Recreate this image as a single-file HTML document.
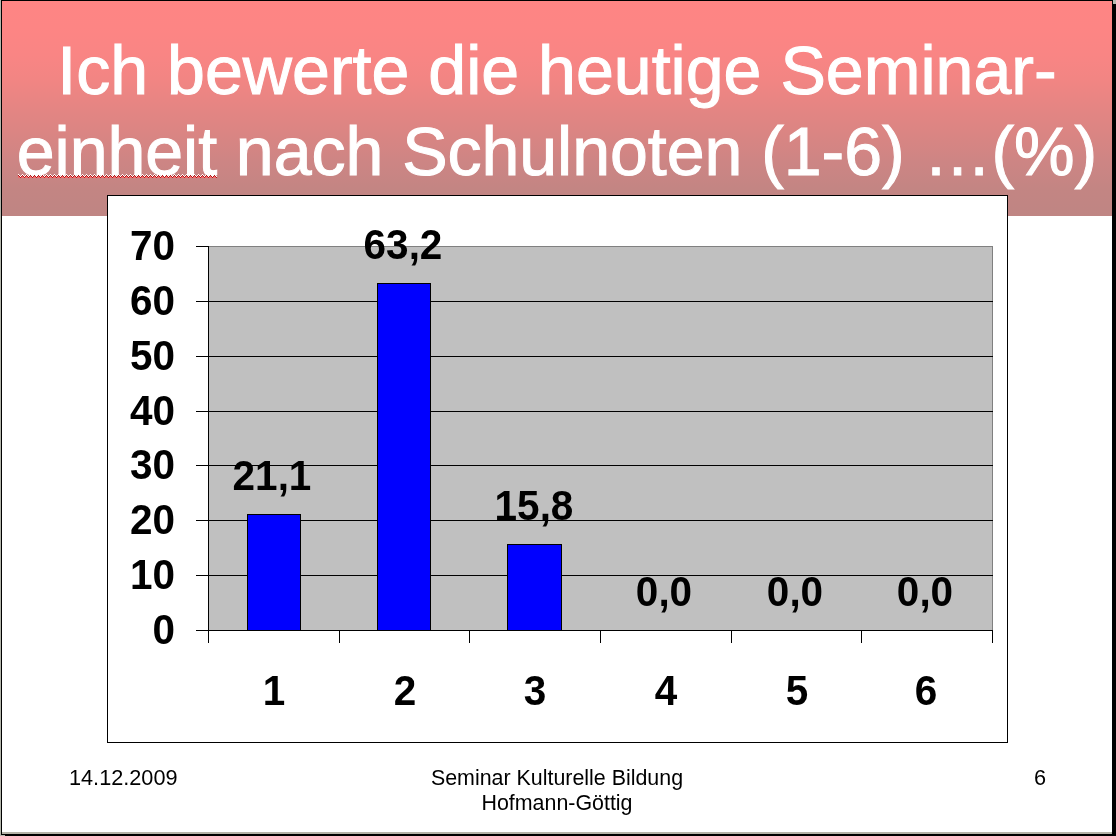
<!DOCTYPE html>
<html lang="de">
<head>
<meta charset="utf-8">
<title>Ich bewerte die heutige Seminareinheit nach Schulnoten</title>
<style>
html,body{margin:0;padding:0;}
body{width:1116px;height:836px;overflow:hidden;background:#000;position:relative;font-family:"Liberation Sans",Arial,sans-serif;}
.abs{position:absolute;}
#edgeL{left:0;top:0;width:1px;height:836px;background:#b4b6ac;}
#edgeBL{left:0;top:835px;width:5px;height:1px;background:#b4b6ac;}
#edgeTR{left:1113px;top:0;width:3px;height:4px;background:#b9bcb2;}
#slide{left:2px;top:1px;width:1110px;height:831px;background:#fff;}
#slideB{left:2px;top:832px;width:1110px;height:2px;background:#b5b3a8;}
#banner{left:2px;top:1px;width:1110px;height:215px;background:linear-gradient(to bottom,#fe8584 0px,#fd8584 27px,#f98584 54px,#f18583 81px,#e48583 108px,#d98583 135px,#cd8584 161px,#c38583 188px,#bf8583 215px);}
.title{left:2px;width:1110px;text-align:center;color:#fff;font-size:68.1px;line-height:80px;white-space:nowrap;-webkit-text-stroke:1px #fff;}
#t1{top:30px;}
#t2{top:111px;letter-spacing:-0.06px;}
#chart{left:107px;top:195px;width:899px;height:546px;border:1px solid #000;background:#fff;}
#plot{left:209px;top:246px;width:784px;height:384px;background:#c0c0c0;border-top:1px solid #808080;border-right:1px solid #808080;box-sizing:border-box;}
.g{left:196px;width:797px;height:1px;background:#000;}
.gt{left:196px;width:13px;height:1px;background:#000;}
#yaxis{left:208px;top:246px;width:1px;height:385px;background:#000;}
#xaxis{left:208px;top:630px;width:785px;height:1px;background:#000;}
.xt{top:630px;width:1px;height:13px;background:#000;}
.bar{background:#0000ff;border:1px solid #000;box-sizing:border-box;}
.yl{left:111px;width:64px;text-align:right;font-weight:bold;font-size:42.6px;line-height:40px;color:#000;transform:scaleX(.95);transform-origin:100% 50%;}
.xl{width:80px;text-align:center;font-weight:bold;font-size:42.6px;line-height:40px;color:#000;top:670px;transform:scaleX(.95);transform-origin:50% 50%;}
.dl{width:120px;text-align:center;font-weight:bold;font-size:42.6px;line-height:40px;color:#000;transform:scaleX(.95);transform-origin:50% 50%;}
.ft{font-size:21.7px;line-height:25.2px;color:#000;white-space:nowrap;}
</style>
</head>
<body>
<div class="abs" id="edgeL"></div>
<div class="abs" id="edgeBL"></div>
<div class="abs" id="edgeTR"></div>
<div class="abs" id="slide"></div>
<div class="abs" id="slideB"></div>
<div class="abs" id="banner"></div>
<div class="abs title" id="t1">Ich bewerte die heutige Seminar-</div>
<div class="abs title" id="t2"><span id="sq">einheit</span> nach Schulnoten (1-6) …(%)</div>

<svg class="abs" id="squig" style="left:18px;top:174px" width="199" height="4" shape-rendering="crispEdges"><defs><pattern id="zz" width="4" height="4" patternUnits="userSpaceOnUse"><rect x="0" y="0" width="1" height="1" fill="#fff"/><rect x="1" y="1" width="1" height="1" fill="#fff"/><rect x="3" y="1" width="1" height="1" fill="#fff"/><rect x="2" y="2" width="1" height="1" fill="#fff"/><rect x="0" y="1" width="1" height="1" fill="#b01818"/><rect x="1" y="2" width="1" height="1" fill="#b01818"/><rect x="3" y="2" width="1" height="1" fill="#b01818"/><rect x="2" y="3" width="1" height="1" fill="#b01818"/><rect x="0" y="2" width="1" height="2" fill="#f06a6a"/><rect x="1" y="3" width="1" height="1" fill="#f06a6a"/><rect x="3" y="3" width="1" height="1" fill="#f06a6a"/></pattern></defs><rect x="0" y="0" width="199" height="4" fill="url(#zz)"/></svg>

<div class="abs" id="chart"></div>
<div class="abs" id="plot"></div>
<div class="abs gt" style="top:246px"></div>
<div class="abs g" style="top:301px"></div>
<div class="abs g" style="top:356px"></div>
<div class="abs g" style="top:411px"></div>
<div class="abs g" style="top:465px"></div>
<div class="abs g" style="top:520px"></div>
<div class="abs g" style="top:575px"></div>
<div class="abs gt" style="top:630px"></div>
<div class="abs" id="yaxis"></div>
<div class="abs" id="xaxis"></div>
<div class="abs xt" style="left:208px"></div>
<div class="abs xt" style="left:339px"></div>
<div class="abs xt" style="left:469px"></div>
<div class="abs xt" style="left:600px"></div>
<div class="abs xt" style="left:731px"></div>
<div class="abs xt" style="left:861px"></div>
<div class="abs xt" style="left:992px"></div>

<div class="abs bar" style="left:247px;top:514px;width:54px;height:117px"></div>
<div class="abs bar" style="left:377px;top:283px;width:54px;height:348px"></div>
<div class="abs bar" style="left:507px;top:544px;width:55px;height:87px"></div>

<div class="abs yl" style="top:225px">70</div>
<div class="abs yl" style="top:280px">60</div>
<div class="abs yl" style="top:335px">50</div>
<div class="abs yl" style="top:390px">40</div>
<div class="abs yl" style="top:444px">30</div>
<div class="abs yl" style="top:499px">20</div>
<div class="abs yl" style="top:554px">10</div>
<div class="abs yl" style="top:609px">0</div>

<div class="abs xl" style="left:233.5px">1</div>
<div class="abs xl" style="left:364.5px">2</div>
<div class="abs xl" style="left:494.5px">3</div>
<div class="abs xl" style="left:625.5px">4</div>
<div class="abs xl" style="left:756.5px">5</div>
<div class="abs xl" style="left:885.5px">6</div>

<div class="abs dl" style="left:212px;top:455px">21,1</div>
<div class="abs dl" style="left:343px;top:224px">63,2</div>
<div class="abs dl" style="left:473.5px;top:485px">15,8</div>
<div class="abs dl" style="left:604px;top:571px">0,0</div>
<div class="abs dl" style="left:734.5px;top:571px">0,0</div>
<div class="abs dl" style="left:865px;top:571px">0,0</div>

<div class="abs ft" id="fdate" style="left:69px;top:765px">14.12.2009</div>
<div class="abs ft" id="fmid" style="left:357px;top:766px;width:400px;text-align:center;font-size:21.4px">Seminar Kulturelle Bildung<br>Hofmann-Göttig</div>
<div class="abs ft" id="fnum" style="left:1034px;top:765px">6</div>
</body>
</html>
